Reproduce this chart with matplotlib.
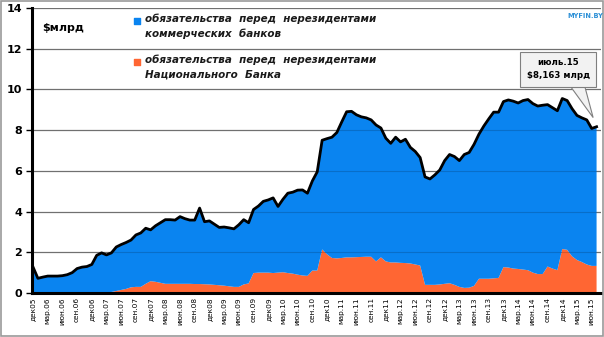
"""External debt of Belarusian banks to non-residents, monthly, stacked."""

import matplotlib.pyplot as plt
from matplotlib.patches import Rectangle, Polygon

# Monthly values, Dec 2005 .. Jul 2015, $ bn
total = [
    1.28, 0.72, 0.78, 0.83, 0.83, 0.83, 0.85, 0.90, 1.00, 1.20,
    1.27, 1.30, 1.40, 1.85, 1.97, 1.87, 1.97, 2.26, 2.38, 2.48,
    2.60, 2.85, 2.95, 3.18, 3.10, 3.30, 3.45, 3.60, 3.60, 3.58,
    3.75, 3.65, 3.58, 3.58, 4.17, 3.50, 3.54, 3.38, 3.22, 3.24,
    3.20, 3.15, 3.35, 3.60, 3.45, 4.10, 4.27, 4.50, 4.57, 4.67,
    4.25, 4.60, 4.90, 4.95, 5.05, 5.06, 4.90, 5.50, 5.95, 7.50,
    7.58, 7.65, 7.88, 8.40, 8.90, 8.92, 8.75, 8.65, 8.60, 8.50,
    8.25, 8.10, 7.60, 7.35, 7.65, 7.42, 7.55, 7.15, 6.95, 6.65,
    5.70, 5.60, 5.80, 6.04, 6.50, 6.80, 6.70, 6.50, 6.80, 6.90,
    7.30, 7.80, 8.20, 8.55, 8.88, 8.88, 9.40, 9.48, 9.42, 9.33,
    9.45, 9.50, 9.30, 9.18, 9.22, 9.25, 9.10, 8.95, 9.55, 9.45,
    9.05, 8.72, 8.60, 8.50, 8.08, 8.163,
]
national_bank = [
    0.00, 0.00, 0.00, 0.00, 0.00, 0.00, 0.00, 0.00, 0.00, 0.00,
    0.00, 0.00, 0.00, 0.00, 0.00, 0.00, 0.05, 0.10, 0.15, 0.20,
    0.28, 0.30, 0.30, 0.45, 0.58, 0.55, 0.50, 0.45, 0.45, 0.45,
    0.45, 0.45, 0.45, 0.44, 0.44, 0.43, 0.42, 0.40, 0.38, 0.36,
    0.33, 0.30, 0.30, 0.42, 0.47, 0.98, 1.00, 1.00, 1.00, 0.98,
    1.00, 1.02, 0.98, 0.95, 0.90, 0.86, 0.84, 1.10, 1.10, 2.14,
    1.90, 1.72, 1.70, 1.72, 1.75, 1.75, 1.76, 1.77, 1.78, 1.78,
    1.55, 1.75, 1.55, 1.50, 1.50, 1.48, 1.47, 1.45, 1.40, 1.35,
    0.40, 0.40, 0.40, 0.42, 0.45, 0.48, 0.40, 0.30, 0.25, 0.26,
    0.35, 0.70, 0.70, 0.70, 0.72, 0.74, 1.27, 1.25, 1.20, 1.18,
    1.15, 1.12, 1.00, 0.93, 0.93, 1.30, 1.20, 1.12, 2.16, 2.12,
    1.80, 1.62, 1.52, 1.40, 1.33, 1.33,
]
commercial = [t - n for t, n in zip(total, national_bank)]

tick_labels = [
    "дек05", "мар.06", "июн.06", "сен.06", "дек06", "мар.07", "июн.07", "сен.07",
    "дек07", "мар.08", "июн.08", "сен.08", "дек08", "мар.09", "июн.09", "сен.09",
    "дек09", "мар.10", "июн.10", "сен.10", "дек10", "мар.11", "июн.11", "сен.11",
    "дек11", "мар.12", "июн.12", "сен.12", "дек12", "мар.13", "июн.13", "сен.13",
    "дек13", "мар.14", "июн.14", "сен.14", "дек14", "мар.15", "июн.15",
]
y_ticks = [0, 2, 4, 6, 8, 10, 12, 14]

BLUE = "#0a84f0"
ORANGE = "#ff6633"

fig = plt.figure(figsize=(6.04, 3.37), dpi=100)
ax = fig.add_axes([0.053, 0.1306, 0.942, 0.846])

x = list(range(len(total)))
ax.stackplot(x, national_bank, commercial, colors=[ORANGE, BLUE], linewidth=0, zorder=2)
ax.plot(x, total, color="black", lw=2.0, zorder=4, solid_joinstyle="round")

# grid: gray on white, faint darker stroke over the filled areas
ax.set_axisbelow(True)
ax.yaxis.grid(True, color="#868686", lw=0.9)
for v in y_ticks[1:]:
    ax.axhline(v, color="black", alpha=0.16, lw=0.8, zorder=3)

ax.set_xlim(-0.2, 115.9)
ax.set_ylim(0, 14)
ax.set_yticks(y_ticks)
ax.set_yticklabels([str(v) for v in y_ticks], fontsize=8, fontweight="bold")
ax.set_xticks(x[::3])
ax.set_xticklabels(tick_labels, rotation=90, fontsize=5.3)
ax.tick_params(axis="y", length=4, width=1, pad=3)
ax.tick_params(axis="x", length=0, pad=3)

for side in ("top", "right"):
    ax.spines[side].set_visible(False)
ax.spines["left"].set_linewidth(2.2)
ax.spines["bottom"].set_linewidth(2.2)

ax.text(0.018, 0.93, "$млрд", transform=ax.transAxes, fontsize=8,
        fontweight="bold", va="center")

# legend drawn by hand so the square sits on the first line
legend_items = [
    (BLUE, 0.954, 0.979, "обязательства  перед  нерезидентами\nкоммерческих  банков"),
    (ORANGE, 0.811, 0.835, "обязательства  перед  нерезидентами\nНационального  Банка"),
]
for color, ym, yt, label in legend_items:
    ax.scatter([0.184], [ym], marker="s", s=18, color=color, transform=ax.transAxes,
               clip_on=False, zorder=5)
    ax.text(0.198, yt, label, transform=ax.transAxes, fontsize=7.5, style="italic",
            fontweight="bold", va="top", linespacing=1.5, color="#1a1a1a")

# callout for the last month: tail first, box drawn over its base
last = len(total) - 1
ax.add_patch(Polygon([(108.6, 10.5), (112.2, 10.5), (last - 0.7, total[last] + 0.45)],
                     closed=True, fc="#f2f2f2", ec="#7f7f7f", lw=0.8, zorder=6))
value_txt = f"{total[last]:.3f}".replace(".", ",")
ax.text(107.2, 10.98, f"июль.15\n${value_txt} млрд",
        ha="center", va="center", fontsize=6.2, fontweight="bold", linespacing=1.6,
        bbox=dict(boxstyle="square,pad=0.75", fc="#f2f2f2", ec="#7f7f7f", lw=0.8),
        zorder=7)

fig.text(0.999, 0.952, "MYFIN.BY", ha="right", va="center", fontsize=4.8,
         fontweight="bold", color="#2b8fd6")

fig.add_artist(Rectangle((0.001, 0.002), 0.997, 0.995, transform=fig.transFigure,
                         fill=False, ec="#9a9a9a", lw=1.2))

fig.savefig("out.png", dpi=100)
